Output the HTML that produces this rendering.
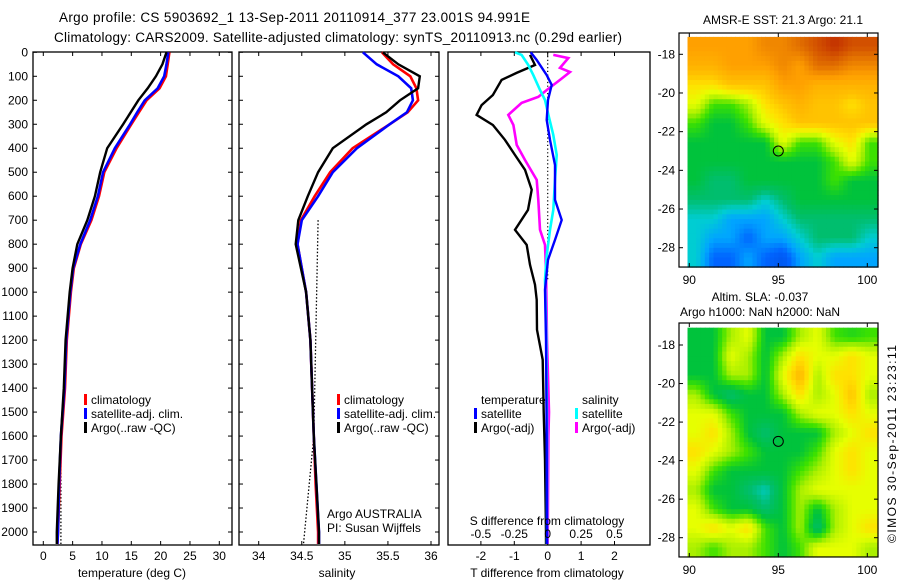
<!DOCTYPE html>
<html><head><meta charset="utf-8">
<style>
html,body{margin:0;padding:0;background:#fff;}
svg{display:block;font-family:"Liberation Sans",sans-serif;}
text{font-size:12px;fill:#000;}
</style></head>
<body>
<svg id="fig" width="900" height="580" viewBox="0 0 900 580" xmlns="http://www.w3.org/2000/svg">
<text x="59" y="22" textLength="471" style="font-size:13.5px">Argo profile: CS 5903692_1 13-Sep-2011 20110914_377 23.001S 94.991E</text>
<text x="54" y="42" textLength="568" style="font-size:13.5px">Climatology: CARS2009. Satellite-adjusted climatology: synTS_20110913.nc (0.29d earlier)</text>
<text x="783" y="24" text-anchor="middle">AMSR-E SST: 21.3 Argo: 21.1</text>
<text x="760" y="301" text-anchor="middle">Altim. SLA: -0.037</text>
<text x="760" y="316" text-anchor="middle">Argo h1000: NaN h2000: NaN</text>
<text transform="translate(896,444) rotate(-90)" text-anchor="middle" textLength="198">©IMOS 30-Sep-2011 23:23:11</text>
<g id="g"></g>
</svg>
<script>
// ---- data ----
const depthT = [0,50,100,150,200,250,300,400,500,600,700,800,900,1000,1200,1400,1600,1800,2000,2050];
const tempClim = [21.5,21.2,20.9,19.8,17.6,16.3,15.0,12.5,10.4,9.5,8.2,6.4,5.2,4.7,4.0,3.7,3.1,2.8,2.5,2.4];
const tempSat  = [21.3,21.0,20.6,19.5,17.3,16.0,14.8,12.2,10.2,9.3,8.0,6.3,5.1,4.6,3.9,3.6,3.0,2.7,2.5,2.4];
const tempArgo = [21.0,20.3,19.2,17.8,16.2,14.9,13.6,10.9,9.7,8.8,7.5,5.8,5.0,4.5,3.8,3.5,3.0,2.6,2.3,2.3];
const salClim = [35.43,35.56,35.76,35.83,35.85,35.73,35.52,35.09,34.83,34.65,34.49,34.45,34.5,34.55,34.6,34.62,34.64,34.66,34.69,34.69];
const salSat  = [35.21,35.37,35.62,35.77,35.79,35.72,35.52,35.14,34.86,34.69,34.5,34.45,34.5,34.55,34.6,34.62,34.64,34.67,34.7,34.7];
const salArgo = [35.44,35.62,35.87,35.85,35.64,35.48,35.25,34.86,34.69,34.57,34.46,34.43,34.49,34.55,34.6,34.62,34.64,34.67,34.7,34.7];
const dotTDepth = [1650,2050]; const dotTVal = [3.0,3.0];
const dotSDepth = [700,1600,2050]; const dotSVal = [34.69,34.64,34.52];

const dArgoTDepth = [11,53,86,115,178,220,261,303,365,428,490,573,657,740,803,886,969,1032,1157,1282,1500,1700,2000,2050];
const dArgoT = [-0.53,-0.38,-0.93,-1.38,-1.64,-1.98,-2.13,-1.64,-1.28,-0.98,-0.68,-0.48,-0.59,-0.98,-0.63,-0.53,-0.38,-0.33,-0.32,-0.15,-0.12,-0.08,-0.05,-0.05];
const dSatTDepth = [0,32,95,136,199,282,365,470,615,699,782,865,990,1200,1600,2050];
const dSatT = [-0.51,-0.33,-0.03,0.12,0.01,-0.03,0.07,0.22,0.22,0.42,0.22,0.01,-0.08,-0.05,-0.03,-0.02];
const dArgoSDepth = [11,24,65,82,115,157,186,211,261,303,386,449,532,615,740,803,907,1200,1500,1600,2050];
const dArgoS = [0.042,0.154,0.092,0.167,0.092,-0.007,-0.07,-0.195,-0.295,-0.257,-0.232,-0.17,-0.082,-0.07,-0.058,-0.02,-0.013,-0.005,0.01,0.005,0.0];
const dSatSDepth = [0,11,53,95,157,199,261,345,428,532,657,740,844,948,1200,1600,2050];
const dSatS = [-0.245,-0.195,-0.145,-0.108,-0.058,-0.02,0.005,0.042,0.067,0.055,0.042,0.017,-0.007,-0.02,-0.01,-0.005,-0.005];

const depthTicks = [0,100,200,300,400,500,600,700,800,900,1000,1100,1200,1300,1400,1500,1600,1700,1800,1900,2000];
const tempTicks = [0,5,10,15,20,25,30];
const salTicks = [34,34.5,35,35.5,36];
const salTickLabels = ["34","34.5","35","35.5","36"];
const dTTicks = [-2,-1,0,1,2];
const dSTicks = [-0.5,-0.25,0,0.25,0.5];
const dSTickLabels = ["-0.5","-0.25","0","0.25","0.5"];
const latTicks = [-18,-20,-22,-24,-26,-28];
const lonTicks = [90,95,100];

const sstGrid = [
[7,7,7,7,7.5,7.5,8,8.5,9,8.5,8.5],
[6.5,6.5,7,7,7,7.5,7,8,8,7.5,7.5],
[5.5,5.5,6,6,6,7,7,6.5,6.5,6.5,6.5],
[5,4,4,4.5,5.5,6,6.5,6,6,5.5,6],
[4,3.5,3.5,4,5,5.5,6,6,6,6,6],
[3.5,3.5,3.5,3.5,3.5,5,4,4,5,5.5,4],
[3.5,3.5,3.5,3.5,3.5,3.5,3.5,3.5,4,5,4],
[3.5,3,3,3.5,3.5,3.5,3.5,3.5,4,3.5,3.5],
[3,3,3,3,2.5,3,3.5,3.5,3.5,3.5,3.5],
[2.5,2.5,2,2,2,2.5,3,3,3,3,3],
[2.5,2,2,1.5,2,2,2.5,3,3,3,2.5],
[2.5,1.5,1.5,2,1.5,1.2,2,2.5,2,2,2]];
const slaGrid = [
[3.5,3.5,4.5,5,3.5,3.5,4.5,5,4,3.8,4],
[3.5,3.5,5,4.5,3.5,4.5,5.5,5,5,5.5,5],
[3.5,3.5,4.5,4.5,3.5,5,6.3,4.5,5.5,5.5,5],
[4.5,3.5,3,3.5,3.5,4.5,5.5,4.5,5,6,4.5],
[5,5,4,3.5,3.5,3.5,4.5,5,5,5.5,5],
[5,5.5,4.5,3.5,3,3.5,3.5,3.5,4.5,5,5.5],
[5.5,5,4.5,4,3.5,3.5,3.5,4,5,5.5,5],
[5,4,3.5,3.5,3.5,3.5,4,4.5,5,5.5,5],
[4.5,3.5,3.5,3,2.6,3.5,4.5,5,5,5,5],
[5,4,3.5,3.5,3,3.5,4.5,3.5,4.5,5,5],
[5,5.5,5,5.5,4,3.5,4.5,3,4.5,5,5.5],
[4.5,4,4.5,4.5,4,3.5,4,5,5,5,4.5]];
const argoLon = 95.0, argoLat = -23.0;

// ---- helpers ----
const NS="http://www.w3.org/2000/svg";
const G=document.getElementById('g');
function mk(tag,attrs,parent){const e=document.createElementNS(NS,tag);for(const k in attrs)e.setAttribute(k,attrs[k]);(parent||G).appendChild(e);return e;}
function lin(d0,d1,p0,p1){return v=>p0+(v-d0)*(p1-p0)/(d1-d0);}
const yD = lin(0,2000,52.3,532);
const P1={x0:33,x1:232}, P2={x0:239,x1:439}, P3={x0:448,x1:650}, TOP=52, BOT=545;
const xT = lin(0,30,43.3,219.3);
const xS = lin(34,36,258.7,431);
const xdT = lin(0,1,547.7,581.1);
const xdS = lin(0,0.25,547.7,581.1);

function line(xs,ds,xf,color,w,name,dash){
  const pts=xs.map((v,i)=>xf(v).toFixed(1)+','+yD(ds[i]).toFixed(1)).join(' ');
  const e=mk('polyline',{points:pts,fill:'none',stroke:color,'stroke-width':w});
  if(dash)e.setAttribute('stroke-dasharray',dash);
  
  
}
function frame(p,name){
  const e=mk('rect',{x:p.x0,y:TOP,width:p.x1-p.x0,height:BOT-TOP,fill:'none',stroke:'#000','stroke-width':1.3});
  
  
}
function txt(x,y,s,name,anchor,size){
  const e=mk('text',{x:x,y:y});
  if(anchor)e.setAttribute('text-anchor',anchor);
  if(size)e.setAttribute('style','font-size:'+size+'px');
  e.textContent=s;
  
  
  return e;
}
function xticks(p,vals,labels,xf,name,ly){
  vals.forEach((v,i)=>{const x=xf(v);
    mk('line',{x1:x,x2:x,y1:TOP,y2:TOP+4,stroke:'#000'});
    mk('line',{x1:x,x2:x,y1:BOT,y2:BOT-4,stroke:'#000'});
    if(labels)txt(x,ly,labels[i],name,'middle');
  });
}
function yticks(p){
  depthTicks.forEach(d=>{const y=yD(d);
    mk('line',{x1:p.x0,x2:p.x0+4,y1:y,y2:y,stroke:'#000'});
    mk('line',{x1:p.x1,x2:p.x1-4,y1:y,y2:y,stroke:'#000'});
  });
}
function legendBox(x,y,color,label,name){
  const r=mk('rect',{x:x,y:y-10,width:3,height:11,fill:color});
  
  
  txt(x+7,y,label,name);
}

// ---- panel 1: temperature ----
frame(P1,'temperature-panel-frame');
yticks(P1);
depthTicks.forEach(d=>txt(28,yD(d)+4,String(d),'depth-tick-label','end'));
xticks(P1,tempTicks,tempTicks.map(String),xT,'temperature-tick-label',560);
line(dotTVal,dotTDepth,xT,'#000',1.3,'temperature-reference-dotted','1.5,2');
line(tempClim,depthT,xT,'#ff0000',2.6,'temperature-climatology-line');
line(tempSat,depthT,xT,'#0000ff',2.6,'temperature-satellite-line');
line(tempArgo,depthT,xT,'#000000',2.4,'temperature-argo-line');
txt(132,577,'temperature (deg C)','temperature-axis-title','middle');
legendBox(84,404,'#ff0000','climatology','legend-climatology');
legendBox(84,418,'#0000ff','satellite-adj. clim.','legend-satellite-adj');
legendBox(84,432,'#000000','Argo(..raw -QC)','legend-argo');

// ---- panel 2: salinity ----
frame(P2,'salinity-panel-frame');
yticks(P2);
xticks(P2,salTicks,salTickLabels,xS,'salinity-tick-label',560);
line(dotSVal,dotSDepth,xS,'#000',1.3,'salinity-reference-dotted','1.5,2');
line(salClim,depthT,xS,'#ff0000',2.6,'salinity-climatology-line');
line(salSat,depthT,xS,'#0000ff',2.6,'salinity-satellite-line');
line(salArgo,depthT,xS,'#000000',2.4,'salinity-argo-line');
txt(337,577,'salinity','salinity-axis-title','middle');
legendBox(337,404,'#ff0000','climatology','legend-climatology');
legendBox(337,418,'#0000ff','satellite-adj. clim.','legend-satellite-adj');
legendBox(337,432,'#000000','Argo(..raw -QC)','legend-argo');
txt(327,518,'Argo AUSTRALIA','argo-program-label');
txt(327,532,'PI: Susan Wijffels','pi-label');

// ---- panel 3: differences ----
frame(P3,'difference-panel-frame');
xticks(P3,dTTicks,null,xdT,'',0);
dTTicks.forEach(v=>txt(xdT(v),560,String(v),'t-diff-tick-label','middle'));
line([0,0],[0,950],xdT,'#000',1.2,'zero-reference-dotted','1.2,2.5');
line(dArgoT,dArgoTDepth,xdT,'#000000',2.4,'t-diff-argo-line');
line(dArgoS,dArgoSDepth,xdS,'#ff00ff',2.6,'s-diff-argo-line');
line(dSatS,dSatSDepth,xdS,'#00ffff',2.6,'s-diff-satellite-line');
line(dSatT,dSatTDepth,xdT,'#0000ff',2.4,'t-diff-satellite-line');
dSTicks.forEach((v,i)=>txt(xdS(v),538,dSTickLabels[i],'s-diff-tick-label','middle'));
txt(547,525,'S difference from climatology','s-diff-axis-title','middle');
txt(547,577,'T difference from climatology','t-diff-axis-title','middle');
txt(481,404,'temperature','legend-temperature-header');
txt(582,404,'salinity','legend-salinity-header');
legendBox(474,418,'#0000ff','satellite','legend-t-satellite');
legendBox(474,432,'#000000','Argo(-adj)','legend-t-argo');
legendBox(575,418,'#00ffff','satellite','legend-s-satellite');
legendBox(575,432,'#ff00ff','Argo(-adj)','legend-s-argo');

// ---- maps ----
const stops=[[0,[0,40,180]],[1.5,[0,100,255]],[2,[0,165,255]],[2.5,[0,205,210]],[3,[0,190,110]],[3.5,[0,195,60]],[4,[60,225,0]],[4.5,[170,240,0]],[5,[230,255,0]],[5.5,[255,225,0]],[6,[255,195,0]],[7,[255,160,0]],[8,[225,110,0]],[9,[195,50,0]]];
function cmap(v){
  for(let i=0;i<stops.length-1;i++){const a=stops[i],b=stops[i+1];
    if(v<=b[0]){const t=Math.max(0,(v-a[0])/(b[0]-a[0]));const c=a[1].map((q,k)=>Math.round(q+(b[1][k]-q)*t));return 'rgb('+c.join(',')+')';}}
  return 'rgb(195,50,0)';
}
function sample(grid,fj,fi){
  const nr=grid.length,nc=grid[0].length;
  fj=Math.max(0,Math.min(nr-1,fj)); fi=Math.max(0,Math.min(nc-1,fi));
  const j0=Math.floor(fj),i0=Math.floor(fi),j1=Math.min(nr-1,j0+1),i1=Math.min(nc-1,i0+1);
  const tj=fj-j0,ti=fi-i0;
  return (grid[j0][i0]*(1-ti)+grid[j0][i1]*ti)*(1-tj)+(grid[j1][i0]*(1-ti)+grid[j1][i1]*ti)*tj;
}
function drawMap(grid,yTopPx,yM18,yM28,name){
  const fx={x0:679,x1:878};
  const xL=lin(90,100,689.3,867.3);
  const yL=lin(-18,-28,yM18,yM28);
  const lon0=89.9, lon1=100.6, lat0=-17.1, lat1=-29.0;
  const nr=grid.length, nc=grid[0].length, up=4;
  const NR=nr*up, NC=nc*up;
  const dlon=(lon1-lon0)/NC, dlat=(lat0-lat1)/NR;
  const g=mk('g',{});
  
  
  for(let j=0;j<NR;j++)for(let i=0;i<NC;i++){
    const v=sample(grid,(j+0.5)/up-0.5,(i+0.5)/up-0.5);
    const xa=xL(lon0+i*dlon), xb=xL(lon0+(i+1)*dlon);
    const ya=yL(lat0-j*dlat), yb=yL(lat0-(j+1)*dlat);
    mk('rect',{x:xa.toFixed(2),y:ya.toFixed(2),width:(xb-xa+0.6).toFixed(2),height:(yb-ya+0.6).toFixed(2),fill:cmap(v)},g);
  }
  const yBot=yL(lat1);
  const f=mk('rect',{x:fx.x0,y:yTopPx,width:fx.x1-fx.x0,height:yBot-yTopPx,fill:'none',stroke:'#000','stroke-width':1.2});
  
  
  latTicks.forEach(l=>{const y=yL(l);
    mk('line',{x1:fx.x0,x2:fx.x0+4,y1:y,y2:y,stroke:'#000'});
    mk('line',{x1:fx.x1,x2:fx.x1-4,y1:y,y2:y,stroke:'#000'});
    txt(675,y+4,String(l),name+'-lat-label','end');});
  lonTicks.forEach(l=>{const x=xL(l);
    mk('line',{x1:x,x2:x,y1:yTopPx,y2:yTopPx+4,stroke:'#000'});
    mk('line',{x1:x,x2:x,y1:yBot,y2:yBot-4,stroke:'#000'});
    txt(x,yBot+17,String(l),name+'-lon-label','middle');});
  const c=mk('circle',{cx:xL(argoLon),cy:yL(argoLat),r:5,fill:'none',stroke:'#000','stroke-width':1});
  
  
}
drawMap(sstGrid,33,54.3,247.7,'sst-map');
drawMap(slaGrid,323,345,537.7,'sla-map');
</script>
</body></html>
